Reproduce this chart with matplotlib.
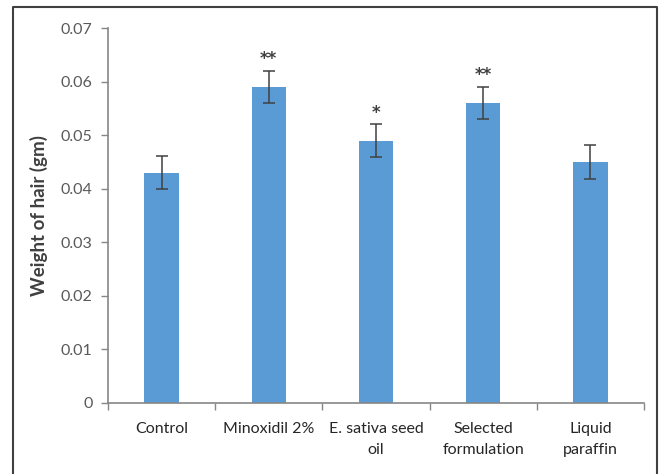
import numpy as np
import matplotlib.pyplot as plt
from matplotlib.lines import Line2D

# Groups, mean hair weight and error bars
groups = ['Control', 'Minoxidil 2%', 'E. sativa seed\noil', 'Selected\nformulation', 'Liquid\nparaffin']
weights = [0.043, 0.059, 0.049, 0.056, 0.045]
errors = [0.0031, 0.003, 0.003, 0.003, 0.0032]
stars = ['', '**', '*', '**', '']

plt.rcParams['font.family'] = ['Lato', 'DejaVu Sans']

fig = plt.figure(figsize=(6.59, 4.74), dpi=100)
ax = fig.add_axes([108 / 659, 1 - 403 / 474, (644 - 108) / 659, (403 - 28) / 474])

x = np.arange(len(groups))
ax.bar(x, weights, width=0.32, color='#5B9BD5', zorder=2)
ax.errorbar(x, weights, yerr=errors, fmt='none', ecolor='#404040', elinewidth=1.1,
            capsize=4, capthick=1.1, zorder=3)

# Significance marks above the error bars
for xi, w, e, s in zip(x, weights, errors, stars):
    if s:
        ax.annotate(s, (xi, w + e), xytext=(0, 2), textcoords='offset points',
                    ha='center', va='bottom', fontsize=12, fontweight='bold',
                    color='#404040', family='DejaVu Sans')

ax.set_xlim(-0.5, len(groups) - 0.5)
ax.set_ylim(0, 0.07)
ax.set_yticks(np.arange(0, 0.071, 0.01))
ax.set_yticklabels(['0', '0.01', '0.02', '0.03', '0.04', '0.05', '0.06', '0.07'])

# category labels centred, tick marks on the category boundaries
ax.set_xticks(x)
ax.set_xticklabels(groups, fontsize=11.5, color='#262626', linespacing=1.6)
ax.tick_params(axis='x', length=0, pad=14)
ax.set_xticks(np.arange(-0.5, len(groups), 1), minor=True)
ax.tick_params(axis='x', which='minor', length=5, color='#868686', width=1)
ax.tick_params(axis='y', length=5, color='#868686', width=1, labelsize=11.5,
               labelcolor='#595959', pad=6)

for side in ['top', 'right']:
    ax.spines[side].set_visible(False)
for side in ['left', 'bottom']:
    ax.spines[side].set_color('#868686')
    ax.spines[side].set_linewidth(1.2)

ax.set_ylabel('Weight of hair (gm)', fontsize=13.5, fontweight='bold', color='#404040', labelpad=9)

# outer frame around the figure (open at the bottom)
fx = [13 / 659, 13 / 659, 657 / 659, 657 / 659]
fy = [0, 1 - 7 / 474, 1 - 7 / 474, 0]
fig.add_artist(Line2D(fx, fy, color='#404040', linewidth=1.5, transform=fig.transFigure))

fig.savefig('out.png', dpi=100)
